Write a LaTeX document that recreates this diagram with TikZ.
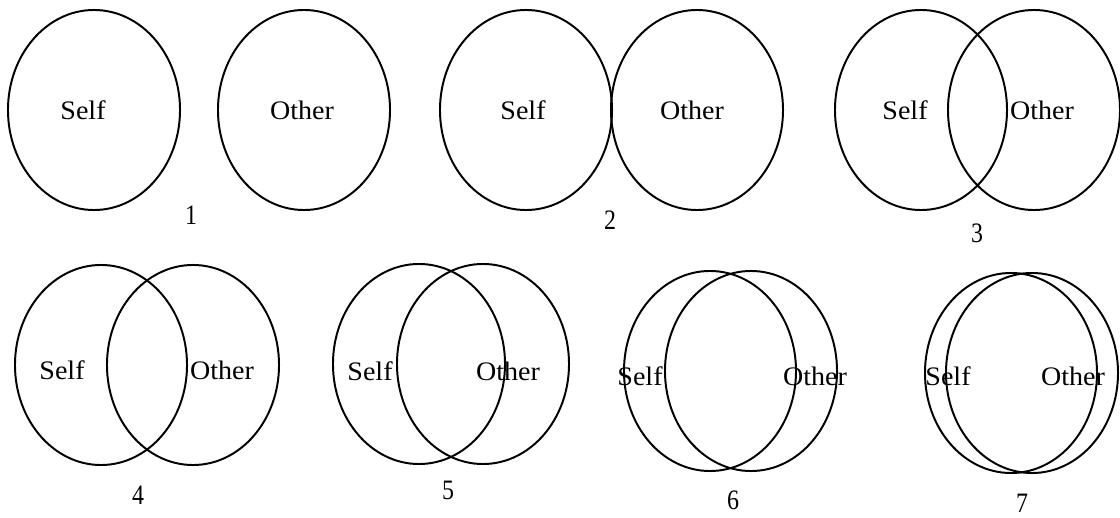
\documentclass[tikz,border=0pt]{standalone}
\usepackage{fontspec}
\setmainfont{Liberation Serif}
\newfontfamily\wordfont[FakeStretch=1.05]{Liberation Serif}
\newfontfamily\numfont[FakeStretch=0.85]{Liberation Serif}
\usetikzlibrary{shapes.geometric}
\tikzset{
  ring/.style={ellipse, draw, line width=1.4pt, minimum width=4.3cm, minimum height=5cm, inner sep=0pt},
  word/.style={inner sep=0pt, font=\wordfont\fontsize{19}{22}\selectfont},
  num/.style={inner sep=0pt, font=\numfont\fontsize{20}{24}\selectfont},
}

\begin{document}
\begin{tikzpicture}[x=0.025cm,y=-0.025cm]
      \useasboundingbox (0,0) rectangle (1120,518);

      \node[ring] (S1) at (94,110) {};
      \node[ring] (O1) at (304,110) {};
      \node[word] (ts1) at (83,110) {Self};
      \node[word] (to1) at (302,110) {Other};
      \node[num] (n1) at (191,215) {1};

      \node[ring] (S2) at (526,110) {};
      \node[ring] (O2) at (697,110) {};
      \node[word] (ts2) at (523,110) {Self};
      \node[word] (to2) at (692,110) {Other};
      \node[num] (n2) at (610,220) {2};

      \node[ring] (S3) at (921,110) {};
      \node[ring] (O3) at (1034,110) {};
      \node[word] (ts3) at (905,110) {Self};
      \node[word] (to3) at (1042,110) {Other};
      \node[num] (n3) at (977,233) {3};

      \node[ring] (S4) at (101,365) {};
      \node[ring] (O4) at (193,365) {};
      \node[word] (ts4) at (62,370) {Self};
      \node[word] (to4) at (222,370) {Other};
      \node[num] (n4) at (138,495) {4};

      \node[ring] (S5) at (419,364) {};
      \node[ring] (O5) at (483,364) {};
      \node[word] (ts5) at (370,371) {Self};
      \node[word] (to5) at (508,371) {Other};
      \node[num] (n5) at (448,490) {5};

      \node[ring] (S6) at (710,371) {};
      \node[ring] (O6) at (751,371) {};
      \node[word] (ts6) at (640,376) {Self};
      \node[word] (to6) at (815,376) {Other};
      \node[num] (n6) at (733,500) {6};

      \node[ring] (S7) at (1011,373) {};
      \node[ring] (O7) at (1032,373) {};
      \node[word] (ts7) at (948,376) {Self};
      \node[word] (to7) at (1073,376) {Other};
      \node[num] (n7) at (1022,503) {7};
    \end{tikzpicture}
\end{document}
